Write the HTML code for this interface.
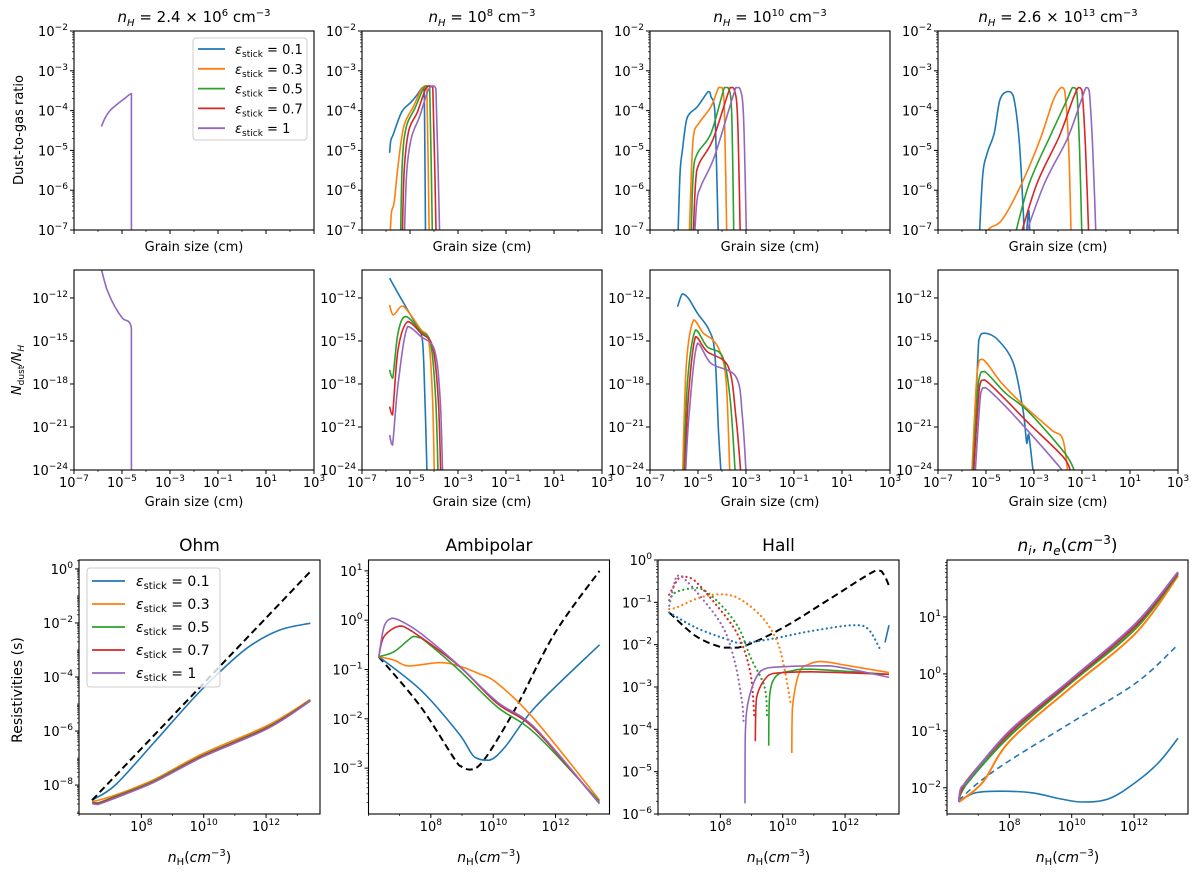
<!DOCTYPE html>
<html><head><meta charset="utf-8"><style>
html,body{margin:0;padding:0;background:#fff;}
svg{display:block;font-family:"DejaVu Sans","Liberation Sans",sans-serif;}
</style></head><body>
<svg id="fig" width="1200" height="878" viewBox="0 0 1200 878" xmlns="http://www.w3.org/2000/svg"></svg>
<script>
// ---------- DATA (log10 values) ----------
const dg1Purple=[[-5.86,-4.40],[-5.7,-4.18],[-5.5,-4.0],[-5.2,-3.84],[-4.9,-3.7],[-4.61,-3.57],[-4.61,-7.5]];
const dg2Blue=[[-5.85,-5.06],[-5.8,-4.75],[-5.7,-4.6],[-5.34,-4.03],[-4.94,-3.78],[-4.7,-3.6],[-4.46,-3.41],[-4.4,-3.7],[-4.35,-7.5]];
const dg2Orange=[[-5.85,-7.5],[-5.78,-6.6],[-5.66,-6.3],[-5.5,-5.4],[-5.26,-4.4],[-4.86,-3.9],[-4.54,-3.48],[-4.38,-3.38],[-4.3,-3.38],[-4.19,-7.5]];
const dg2Green=[[-5.4,-7.5],[-5.32,-5.3],[-5.15,-4.4],[-4.8,-3.95],[-4.45,-3.45],[-4.3,-3.38],[-4.18,-3.4],[-4.06,-7.5]];
const dg2Red=[[-5.33,-7.5],[-5.24,-5.5],[-5.05,-4.5],[-4.7,-4.05],[-4.35,-3.45],[-4.18,-3.38],[-4.05,-3.42],[-3.9,-7.5]];
const dg2Purple=[[-5.25,-7.5],[-5.14,-5.6],[-4.95,-4.7],[-4.6,-4.15],[-4.25,-3.5],[-4.05,-3.38],[-3.92,-3.45],[-3.75,-7.5]];
const dg3Blue=[[-5.85,-7.5],[-5.75,-5.6],[-5.65,-5.0],[-5.5,-4.3],[-5.34,-4.07],[-5.02,-3.9],[-4.57,-3.52],[-4.46,-3.65],[-4.3,-4.0],[-4.14,-7.5]];
const dg3Orange=[[-5.38,-7.5],[-5.28,-5.6],[-5.18,-4.6],[-4.94,-4.3],[-4.46,-3.9],[-4.14,-3.42],[-4.0,-3.42],[-3.9,-4.0],[-3.79,-7.5]];
const dg3Green=[[-5.3,-7.5],[-5.2,-5.6],[-5.02,-5.07],[-4.46,-4.57],[-3.9,-3.42],[-3.75,-3.42],[-3.6,-4.0],[-3.5,-7.5]];
const dg3Red=[[-5.22,-7.5],[-5.1,-5.8],[-4.94,-5.32],[-4.38,-4.73],[-3.66,-3.42],[-3.5,-3.45],[-3.35,-4.2],[-3.23,-7.5]];
const dg3Purple=[[-5.17,-7.5],[-5.05,-6.3],[-4.86,-5.87],[-4.3,-5.13],[-3.42,-3.42],[-3.25,-3.45],[-3.1,-4.2],[-2.97,-7.5]];
const dg4Blue=[[-5.3,-7.5],[-5.14,-5.66],[-4.95,-5.07],[-4.66,-4.57],[-4.42,-3.73],[-4.1,-3.52],[-3.86,-3.64],[-3.62,-4.73],[-3.45,-6.5],[-3.38,-7.5],[-3.22,-6.5],[-3.17,-7.5]];
const dg4Orange=[[-4.9,-7.5],[-4.9,-7.0],[-4.34,-6.75],[-3.54,-5.87],[-2.75,-4.73],[-2.19,-3.73],[-1.87,-3.42],[-1.72,-3.5],[-1.55,-5.0],[-1.44,-7.5]];
const dg4Green=[[-3.94,-7.5],[-3.22,-5.87],[-2.27,-4.57],[-1.63,-3.73],[-1.39,-3.42],[-1.22,-3.5],[-1.1,-5.0],[-0.99,-7.5]];
const dg4Red=[[-3.73,-7.5],[-2.9,-5.87],[-1.95,-4.65],[-1.39,-3.73],[-1.15,-3.42],[-1.0,-3.5],[-0.85,-5.0],[-0.7,-7.5]];
const dg4Purple=[[-3.57,-7.5],[-2.59,-5.87],[-1.63,-4.73],[-1.07,-3.81],[-0.83,-3.42],[-0.7,-3.5],[-0.55,-5.0],[-0.4,-7.5]];
const nd1Purple=[[-5.86,-10.0],[-5.62,-11.44],[-5.3,-12.6],[-4.98,-13.41],[-4.61,-14.11],[-4.61,-25]];
const nd2Blue=[[-5.85,-10.62],[-5.5,-11.67],[-5.18,-12.6],[-4.86,-13.53],[-4.54,-14.46],[-4.42,-16.79],[-4.28,-25]];
const nd2Orange=[[-5.85,-12.49],[-5.69,-13.18],[-5.34,-12.56],[-5.02,-13.07],[-4.54,-14.23],[-4.22,-14.93],[-4.06,-19.1],[-3.98,-25]];
const nd2Green=[[-5.85,-17.02],[-5.72,-17.6],[-5.5,-14.46],[-5.18,-13.3],[-4.54,-14.35],[-4.14,-15.16],[-3.93,-19.1],[-3.82,-25]];
const nd2Red=[[-5.85,-19.58],[-5.73,-20.16],[-5.5,-15.63],[-5.1,-13.65],[-4.54,-14.46],[-4.06,-15.4],[-3.82,-19.1],[-3.71,-25]];
const nd2Purple=[[-5.85,-21.56],[-5.73,-22.26],[-5.5,-18.05],[-5.1,-14.0],[-4.54,-14.7],[-3.98,-15.63],[-3.74,-19.1],[-3.63,-25]];
const nd3Blue=[[-5.85,-12.6],[-5.65,-11.72],[-5.41,-12.0],[-5.02,-13.07],[-4.54,-14.23],[-4.3,-15.86],[-4.14,-21.44],[-4.01,-25]];
const nd3Orange=[[-5.65,-25],[-5.49,-16.79],[-5.18,-13.53],[-4.78,-14.46],[-4.38,-14.93],[-4.06,-15.86],[-3.82,-17.95],[-3.66,-25]];
const nd3Green=[[-5.6,-25],[-5.44,-17.95],[-5.1,-14.23],[-4.62,-15.4],[-3.98,-16.1],[-3.66,-19.1],[-3.42,-25]];
const nd3Red=[[-5.57,-25],[-5.41,-19.1],[-5.1,-14.7],[-4.62,-15.74],[-3.74,-16.79],[-3.42,-20.28],[-3.18,-25]];
const nd3Purple=[[-5.54,-25],[-5.38,-20.28],[-5.02,-15.16],[-4.46,-16.56],[-3.42,-17.49],[-3.15,-20.28],[-2.97,-25]];
const nd4Blue=[[-5.53,-25],[-5.3,-14.93],[-5.06,-14.46],[-4.5,-14.93],[-3.86,-16.56],[-3.46,-19.81],[-3.3,-22.14],[-3.22,-21.5],[-2.98,-25]];
const nd4Orange=[[-5.61,-25],[-5.37,-17.26],[-5.14,-16.28],[-4.34,-17.95],[-3.38,-19.58],[-2.27,-21.21],[-1.79,-21.91],[-1.54,-25]];
const nd4Green=[[-5.58,-25],[-5.3,-17.72],[-5.06,-17.14],[-4.18,-18.65],[-3.22,-19.95],[-1.71,-22.84],[-1.31,-24.1]];
const nd4Red=[[-5.55,-25],[-5.27,-18.19],[-5.06,-17.72],[-4.18,-19.1],[-3.22,-20.74],[-1.79,-23.07],[-1.47,-24.1]];
const nd4Purple=[[-5.48,-25],[-5.22,-18.65],[-5.02,-18.26],[-4.18,-19.58],[-3.22,-21.33],[-1.94,-23.77],[-1.8,-24.1]];
const ohmDash=[[6.42,-8.56],[13.42,-0.1]];
const ohmBlue=[[6.42,-8.56],[7.16,-8.0],[8.38,-6.46],[9.62,-4.85],[10.47,-3.86],[11.45,-2.88],[12.44,-2.26],[13.42,-2.01]];
const ohmOrange=[[6.42,-8.62],[7.16,-8.37],[8.38,-7.81],[9.98,-6.83],[12.07,-5.78],[13.42,-4.83]];
const ohmGreen=[[6.42,-8.64],[6.6,-8.66],[7.16,-8.42],[8.38,-7.86],[9.98,-6.89],[12.07,-5.84],[13.42,-4.86]];
const ohmRed=[[6.42,-8.66],[6.6,-8.69],[7.16,-8.45],[8.38,-7.89],[9.98,-6.92],[12.07,-5.87],[13.42,-4.88]];
const ohmPurple=[[6.42,-8.68],[6.6,-8.72],[7.16,-8.48],[8.38,-7.91],[9.98,-6.95],[12.07,-5.9],[13.42,-4.89]];
const ambDash=[[6.33,-0.74],[7.68,-1.76],[8.9,-2.94],[9.27,-3.03],[9.7,-2.84],[10.74,-1.76],[11.97,-0.27],[13.41,1.0]];
const ambBlue=[[6.33,-0.74],[7.68,-1.42],[8.9,-2.3],[9.39,-2.77],[9.88,-2.84],[10.38,-2.57],[11.35,-1.76],[13.41,-0.5]];
const ambOrange=[[6.33,-0.74],[6.82,-0.81],[7.3,-0.93],[8.29,-0.86],[8.9,-0.93],[9.52,-1.08],[10.13,-1.28],[11.35,-2.03],[13.41,-3.65]];
const ambGreen=[[6.33,-0.74],[6.82,-0.64],[7.43,-0.33],[7.68,-0.36],[8.9,-1.01],[10.13,-1.76],[11.35,-2.3],[13.41,-3.68]];
const ambRed=[[6.33,-0.74],[6.5,-0.33],[7.0,-0.12],[7.43,-0.24],[8.9,-0.93],[10.13,-1.69],[11.35,-2.22],[13.41,-3.72]];
const ambPurple=[[6.33,-0.74],[6.5,-0.13],[6.76,0.04],[7.08,-0.03],[7.68,-0.27],[8.9,-0.92],[10.13,-1.66],[11.35,-2.19],[13.41,-3.72]];
const hallDash=[[6.36,-1.24],[7.22,-1.8],[8.08,-2.07],[8.57,-2.07],[9.3,-1.87],[10.29,-1.48],[11.51,-0.92],[12.98,-0.25],[13.23,-0.33],[13.41,-0.61]];
const hallBlueDot=[[6.36,-1.24],[7.22,-1.6],[8.2,-1.87],[8.69,-1.96],[9.67,-1.86],[10.9,-1.68],[12.25,-1.54],[12.74,-1.63],[13.11,-2.09]];
const hallBlueSolid=[[13.28,-1.95],[13.41,-1.54]];
const hallOrangeDot=[[6.36,-1.16],[6.6,-1.12],[7.3,-0.9],[7.95,-0.81],[8.57,-0.9],[9.3,-1.32],[9.79,-1.87],[10.04,-2.51],[10.25,-3.37]];
const hallOrangeSolid=[[10.29,-4.56],[10.31,-3.5],[10.53,-2.66],[10.85,-2.46],[11.27,-2.4],[12.13,-2.5],[13.41,-2.66]];
const hallGreenDot=[[6.36,-0.95],[6.6,-0.75],[7.28,-0.66],[7.87,-0.95],[8.57,-1.58],[8.96,-2.29],[9.42,-3.0],[9.5,-3.7]];
const hallGreenSolid=[[9.55,-4.39],[9.58,-3.21],[9.79,-2.74],[10.29,-2.62],[10.9,-2.58],[13.41,-2.7]];
const hallRedDot=[[6.36,-0.82],[6.72,-0.39],[7.1,-0.44],[7.87,-1.06],[8.57,-1.78],[8.96,-2.66],[9.09,-3.69]];
const hallRedSolid=[[9.12,-4.28],[9.16,-3.26],[9.55,-2.72],[10.04,-2.66],[10.9,-2.64],[13.41,-2.7]];
const hallPurpleDot=[[6.36,-1.08],[6.6,-0.37],[6.78,-0.4],[7.35,-0.85],[8.08,-1.58],[8.45,-2.37],[8.69,-3.32],[8.75,-3.9]];
const hallPurpleSolid=[[8.79,-5.75],[8.8,-4.1],[8.92,-3.26],[9.3,-2.62],[10.04,-2.52],[11.5,-2.5],[13.41,-2.77]];
const niBlueDash=[[6.38,-2.22],[7.03,-1.9],[8.01,-1.52],[9.97,-0.86],[12.06,-0.16],[13.35,0.48]];
const niBlue=[[6.38,-2.25],[6.9,-2.09],[7.76,-2.06],[8.76,-2.09],[9.6,-2.19],[10.35,-2.25],[11.2,-2.19],[12.06,-1.9],[12.8,-1.55],[13.41,-1.13]];
const niOrange=[[6.38,-2.25],[7.15,-1.9],[8.01,-1.18],[9.97,-0.24],[12.06,0.72],[13.41,1.72]];
const niGreen=[[6.38,-2.2],[6.6,-1.95],[8.01,-1.09],[9.97,-0.16],[12.06,0.8],[13.41,1.75]];
const niRed=[[6.38,-2.2],[6.6,-1.9],[8.01,-1.04],[9.97,-0.13],[12.06,0.85],[13.41,1.77]];
const niPurple=[[6.38,-2.25],[6.44,-2.02],[6.66,-1.87],[8.01,-1.0],[9.97,-0.1],[12.06,0.89],[13.41,1.79]];
const legendLabels=['0.1','0.3','0.5','0.7','1'];
const topTicksX=[-7,-5,-3,-1,1,3];
const botTicksX=[8,10,12];

// ---------- DRAWING ----------
const NS='http://www.w3.org/2000/svg';
const svg=document.getElementById('fig');
const COL={b:'#1f77b4',o:'#ff7f0e',g:'#2ca02c',r:'#d62728',p:'#9467bd',k:'#000'};
let clipN=0;
function el(tag,attrs,parent){const e=document.createElementNS(NS,tag);for(const k in attrs)e.setAttribute(k,attrs[k]);(parent||svg).appendChild(e);return e;}
function pow10(parent,x,y,exp,anchor,fs){
  const t=el('text',{x:x,y:y,'text-anchor':anchor,'font-size':fs||13,fill:'#000'},parent);
  
  
  t.appendChild(document.createTextNode('10'));
  const s=el('tspan',{dy:-6,'font-size':(fs||13)*0.7},t);
  s.textContent=String(exp).replace('-','\u2212');
  return t;
}
function makePanel(name,L,T,W,H,xd,yd){
  const g=el('g',{});
  
  
  const sx=v=>L+(v-xd[0])/(xd[1]-xd[0])*W;
  const sy=v=>T+H-(v-yd[0])/(yd[1]-yd[0])*H;
  const id='clip'+(clipN++);
  const cp=el('clipPath',{id:id},g);el('rect',{x:L,y:T,width:W,height:H},cp);
  const plot=el('g',{'clip-path':'url(#'+id+')'},g);
  return {g,plot,sx,sy,L,T,W,H,xd,yd};
}
function clamp(v,a,b){const lo=Math.min(a,b),hi=Math.max(a,b);return Math.max(lo,Math.min(hi,v));}
function smoothPath(p){
  if(p.length<3)return 'M'+p.map(q=>q[0].toFixed(1)+','+q[1].toFixed(1)).join(' L');
  let d='M'+p[0][0].toFixed(1)+','+p[0][1].toFixed(1);
  for(let i=0;i<p.length-1;i++){
    const p0=p[i-1]||p[i],p1=p[i],p2=p[i+1],p3=p[i+2]||p2;
    let c1=[p1[0]+(p2[0]-p0[0])/6,p1[1]+(p2[1]-p0[1])/6];
    let c2=[p2[0]-(p3[0]-p1[0])/6,p2[1]-(p3[1]-p1[1])/6];
    c1=[clamp(c1[0],p1[0],p2[0]),clamp(c1[1],p1[1],p2[1])];
    c2=[clamp(c2[0],p1[0],p2[0]),clamp(c2[1],p1[1],p2[1])];
    d+=' C'+c1[0].toFixed(1)+','+c1[1].toFixed(1)+' '+c2[0].toFixed(1)+','+c2[1].toFixed(1)+' '+p2[0].toFixed(1)+','+p2[1].toFixed(1);
  }
  return d;
}
function series(P,data,color,name,opts){
  opts=opts||{};
  const pts=data.map(d=>[P.sx(d[0]),P.sy(d[1])]);
  const a={d:smoothPath(pts),fill:'none',stroke:color,'stroke-width':opts.w||1.6,'stroke-linejoin':'round'};
  if(opts.dash)a['stroke-dasharray']=opts.dash;
  if(opts.cap)a['stroke-linecap']=opts.cap;
  const pl=el('path',a,P.plot);
  
  
}
function frame(P,yMajors,yLabel,xMajors,xLabels,minorY,minorX){
  const g=P.g;
  el('rect',{x:P.L,y:P.T,width:P.W,height:P.H,fill:'none',stroke:'#000','stroke-width':1.1},g);
  const B=P.T+P.H;
  yMajors.forEach(v=>{const y=P.sy(v);el('line',{x1:P.L-4,x2:P.L,y1:y,y2:y,stroke:'#000','stroke-width':1},g);
    if(yLabel)pow10(g,P.L-6,y+5,v,'end');});
  if(minorY){for(let d=Math.floor(P.yd[0]);d<Math.ceil(P.yd[1]);d++){for(let k=1;k<=9;k++){const v=d+Math.log10(k);if(v<P.yd[0]||v>P.yd[1]||(k===1&&yMajors.includes(d)))continue;const y=P.sy(v);el('line',{x1:P.L-2,x2:P.L,y1:y,y2:y,stroke:'#000','stroke-width':0.7},g);}}}
  xMajors.forEach(v=>{const x=P.sx(v);el('line',{x1:x,x2:x,y1:B,y2:B+4,stroke:'#000','stroke-width':1},g);
    if(xLabels)pow10(g,x,B+17,v,'middle');});
  if(minorX){minorX.forEach(v=>{const x=P.sx(v);el('line',{x1:x,x2:x,y1:B,y2:B+2,stroke:'#000','stroke-width':0.7},g);});}
}
function text(x,y,str,fs,name,extra){
  const t=el('text',Object.assign({x:x,y:y,'font-size':fs,'text-anchor':'middle',fill:'#000'},extra||{}));
  
  
  t.innerHTML=str;return t;
}
const TL=[74,362,650,938],TW=240;
const dgData=[[dg1Purple],[dg2Blue,dg2Orange,dg2Green,dg2Red,dg2Purple],[dg3Blue,dg3Orange,dg3Green,dg3Red,dg3Purple],[dg4Blue,dg4Orange,dg4Green,dg4Red,dg4Purple]];
const ndData=[[nd1Purple],[nd2Blue,nd2Orange,nd2Green,nd2Red,nd2Purple],[nd3Blue,nd3Orange,nd3Green,nd3Red,nd3Purple],[nd4Blue,nd4Orange,nd4Green,nd4Red,nd4Purple]];
const cols=[COL.b,COL.o,COL.g,COL.r,COL.p];
const cnames=['blue','orange','green','red','purple'];
const titles=['<tspan font-style="italic">n</tspan><tspan font-style="italic" font-size="10" dy="4">H</tspan><tspan dy="-4"> = 2.4 × 10</tspan><tspan font-size="10" dy="-6">6</tspan><tspan dy="6"> cm</tspan><tspan font-size="10" dy="-6">−3</tspan>',
 '<tspan font-style="italic">n</tspan><tspan font-style="italic" font-size="10" dy="4">H</tspan><tspan dy="-4"> = 10</tspan><tspan font-size="10" dy="-6">8</tspan><tspan dy="6"> cm</tspan><tspan font-size="10" dy="-6">−3</tspan>',
 '<tspan font-style="italic">n</tspan><tspan font-style="italic" font-size="10" dy="4">H</tspan><tspan dy="-4"> = 10</tspan><tspan font-size="10" dy="-6">10</tspan><tspan dy="6"> cm</tspan><tspan font-size="10" dy="-6">−3</tspan>',
 '<tspan font-style="italic">n</tspan><tspan font-style="italic" font-size="10" dy="4">H</tspan><tspan dy="-4"> = 2.6 × 10</tspan><tspan font-size="10" dy="-6">13</tspan><tspan dy="6"> cm</tspan><tspan font-size="10" dy="-6">−3</tspan>'];
const xMinorTop=[-6,-4,-2,0,2];
for(let i=0;i<4;i++){
  const P=makePanel('dust-to-gas-panel-'+(i+1),TL[i],31,TW,199,[-7,3],[-7,-2]);
  dgData[i].forEach((d,j)=>{const ci=dgData[i].length===1?4:j;series(P,d,cols[ci],'dust-to-gas-'+cnames[ci]);});
  frame(P,[-7,-6,-5,-4,-3,-2],true,topTicksX,false,true,xMinorTop);
  text(TL[i]+TW/2,22,titles[i],15,'panel-title-'+(i+1));
  text(TL[i]+TW/2,251,'Grain size (cm)',13,'x-axis-title');
  const Q=makePanel('ndust-panel-'+(i+1),TL[i],270,TW,200,[-7,3],[-24,-10.05]);
  ndData[i].forEach((d,j)=>{const ci=ndData[i].length===1?4:j;series(Q,d,cols[ci],'ndust-'+cnames[ci]);});
  frame(Q,[-24,-21,-18,-15,-12],true,topTicksX,true,false,xMinorTop);
  text(TL[i]+TW/2,506,'Grain size (cm)',13,'x-axis-title');
}
text(0,0,'Dust-to-gas ratio',13,'y-axis-title',{transform:'translate(23,130) rotate(-90)'});
text(0,0,'<tspan font-style="italic">N</tspan><tspan font-size="9" dy="3">dust</tspan><tspan dy="-3" font-style="italic">/N</tspan><tspan font-size="9" dy="3" font-style="italic">H</tspan>',13,'y-axis-title',{transform:'translate(21,370) rotate(-90)'});
(function(){const g=el('g',{});
  el('rect',{x:193,y:38,width:114,height:102,rx:3,fill:'#fff',stroke:'#ccc','stroke-width':1},g);
  legendLabels.forEach((lb,j)=>{const y=49+j*19.8;el('line',{x1:198,x2:225,y1:y,y2:y,stroke:cols[j],'stroke-width':1.8},g);
    const t=el('text',{x:235,y:y+5,'font-size':13},g);
    t.innerHTML='<tspan font-style="italic">ε</tspan><tspan font-size="9" dy="3">stick</tspan><tspan dy="-3"> = '+lb+'</tspan>';});
})();
const BL=[79,368.5,658,947],BW=241,BT=560,BH=254,XD=[6.0,13.73];
const xMinorB=[6,7,9,11,13];
const bt=['Ohm','Ambipolar','Hall','<tspan font-style="italic">n</tspan><tspan font-style="italic" font-size="12" dy="4">i</tspan><tspan dy="-4">, </tspan><tspan font-style="italic">n</tspan><tspan font-style="italic" font-size="12" dy="4">e</tspan><tspan dy="-4">(</tspan><tspan font-style="italic">cm</tspan><tspan font-size="12" dy="-7">−3</tspan><tspan dy="7">)</tspan>'];
const P1=makePanel('ohm-panel',BL[0],BT,BW,BH,XD,[-9.07,0.33]);
[ohmBlue,ohmOrange,ohmGreen,ohmRed,ohmPurple].forEach((d,j)=>series(P1,d,cols[j],'ohm-'+cnames[j]));
series(P1,ohmDash,'#000','ohm-reference-dashed',{dash:'7,4',w:2});
frame(P1,[0,-2,-4,-6,-8],true,botTicksX,true,true,xMinorB);
const P2=makePanel('ambipolar-panel',BL[1],BT,BW,BH,XD,[-3.93,1.22]);
series(P2,ambDash,'#000','ambipolar-reference-dashed',{dash:'7,4',w:2});
[ambBlue,ambOrange,ambGreen,ambRed,ambPurple].forEach((d,j)=>series(P2,d,cols[j],'ambipolar-'+cnames[j]));
frame(P2,[1,0,-1,-2,-3],true,botTicksX,true,true,xMinorB);
const P3=makePanel('hall-panel',BL[2],BT,BW,BH,XD,[-6,0]);
series(P3,hallDash,'#000','hall-reference-dashed',{dash:'7,4',w:2});
[hallBlueDot,hallOrangeDot,hallGreenDot,hallRedDot,hallPurpleDot].forEach((d,j)=>series(P3,d,cols[j],'hall-negative-'+cnames[j],{dash:'0.1,4.5',cap:'round',w:2.2}));
[hallBlueSolid,hallOrangeSolid,hallGreenSolid,hallRedSolid,hallPurpleSolid].forEach((d,j)=>series(P3,d,cols[j],'hall-positive-'+cnames[j]));
frame(P3,[0,-1,-2,-3,-4,-5,-6],true,botTicksX,true,true,xMinorB);
const P4=makePanel('density-panel',BL[3],BT,BW,BH,XD,[-2.46,2.0]);
series(P4,niBlueDash,COL.b,'ni-blue-dashed',{dash:'6,4'});
[niBlue,niOrange,niGreen,niRed,niPurple].forEach((d,j)=>series(P4,d,cols[j],'ne-'+cnames[j],{w:j===0?1.6:2}));
frame(P4,[1,0,-1,-2],true,botTicksX,true,true,xMinorB);
for(let i=0;i<4;i++){
  text(BL[i]+BW/2,551,bt[i],17,'panel-title-'+(i+5));
  text(BL[i]+BW/2,862,'<tspan font-style="italic">n</tspan><tspan font-size="10" dy="3">H</tspan><tspan dy="-3">(</tspan><tspan font-style="italic">cm</tspan><tspan font-size="10" dy="-6">−3</tspan><tspan dy="6">)</tspan>',14,'x-axis-title');
}
text(0,0,'Resistivities (s)',14,'y-axis-title',{transform:'translate(22,690) rotate(-90)'});
(function(){const g=el('g',{});
  el('rect',{x:87,y:568,width:133,height:119,rx:3,fill:'#fff','fill-opacity':0.8,stroke:'#ccc','stroke-width':1},g);
  legendLabels.forEach((lb,j)=>{const y=581+j*23;el('line',{x1:92,x2:125,y1:y,y2:y,stroke:cols[j],'stroke-width':1.8},g);
    const t=el('text',{x:136,y:y+5,'font-size':14},g);
    t.innerHTML='<tspan font-style="italic">ε</tspan><tspan font-size="10" dy="3">stick</tspan><tspan dy="-3"> = '+lb+'</tspan>';});
})();
</script>
</body></html>
